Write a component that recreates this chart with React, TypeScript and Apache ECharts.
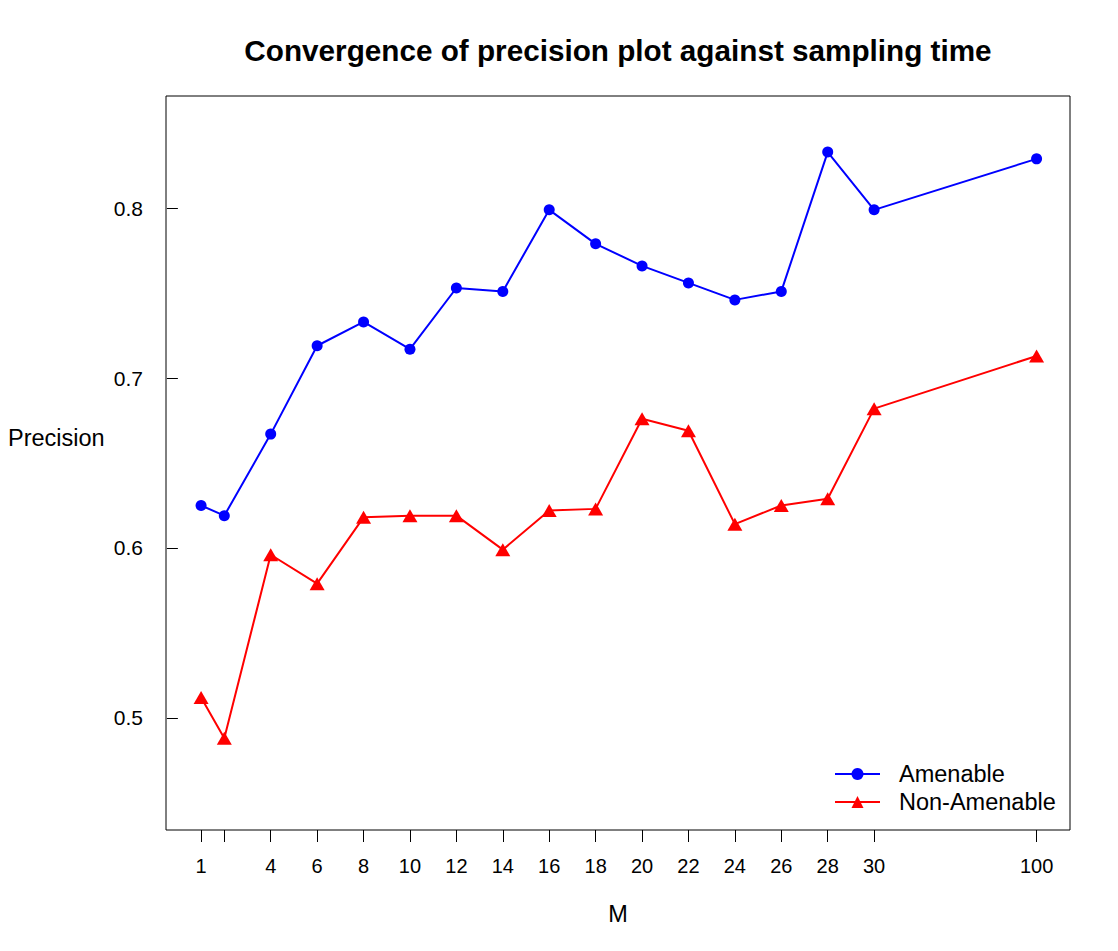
import React, { useEffect, useRef } from "react";
import * as echarts from "echarts";

// Sampling times M shown on the x axis
const mValues = [1, 2, 4, 6, 8, 10, 12, 14, 16, 18, 20, 22, 24, 26, 28, 30, 100];
// Tick labels (the tick at M = 2 is drawn without a label)
const xTickLabels = ["1", "", "4", "6", "8", "10", "12", "14", "16", "18", "20", "22", "24", "26", "28", "30", "100"];
// The last value (100) is drawn on a broken axis, in the slot after 30
const brokenSlotForLast = 37;

const amenable = [0.625, 0.619, 0.667, 0.719, 0.733, 0.717, 0.753, 0.751, 0.799, 0.779, 0.766, 0.756, 0.746, 0.751, 0.833, 0.799, 0.829];
const nonAmenable = [0.512, 0.488, 0.596, 0.579, 0.618, 0.619, 0.619, 0.599, 0.622, 0.623, 0.676, 0.669, 0.614, 0.625, 0.629, 0.682, 0.713];

const yTicks = [0.5, 0.6, 0.7, 0.8];
const yLimits = [0.45, 0.85];

const FONT = "'Liberation Sans', Arial, Helvetica, sans-serif";

const axisSlot = (m: number, i: number) => (i === mValues.length - 1 ? brokenSlotForLast : m);

export default function App() {
  const ref = useRef<HTMLDivElement>(null);

  useEffect(() => {
    if (!ref.current) return;
    const chart = echarts.init(ref.current, null, { renderer: "svg" });
    const slots = mValues.map(axisSlot);
    const xRange = slots[slots.length - 1] - slots[0];
    const xMin = slots[0] - 0.042 * xRange;
    const xMax = slots[slots.length - 1] + 0.04 * xRange;
    const yRange = yLimits[1] - yLimits[0];
    const yMin = yLimits[0] - 0.04 * yRange;
    const yMax = yLimits[1] + 0.04 * yRange;

    const labelFor = (v: number) => {
      const idx = slots.findIndex((s) => Math.abs(s - v) < 1e-6);
      return idx >= 0 ? xTickLabels[idx] : "";
    };

    chart.setOption({
      animation: false,
      backgroundColor: "#ffffff",
      title: {
        text: "Convergence of precision plot against sampling time",
        left: 613,
        textAlign: "center",
        top: 30,
        textStyle: { fontFamily: FONT, fontSize: 29.7, fontWeight: "bold", color: "#000" },
      },
      grid: {
        left: 166,
        top: 96,
        right: 48,
        bottom: 121,
        show: true,
        borderColor: "#000",
        borderWidth: 1,
        backgroundColor: "transparent",
      },
      legend: {
        orient: "vertical",
        left: 834,
        top: 762,
        padding: 0,
        itemWidth: 45,
        itemHeight: 15,
        itemGap: 4,
        data: ["Amenable", "Non-Amenable"],
        textStyle: { fontFamily: FONT, fontSize: 23.5, color: "#000", padding: [0, 0, 0, 14] },
      },
      xAxis: {
        type: "value",
        min: xMin,
        max: xMax,
        name: "M",
        nameLocation: "middle",
        nameGap: 72,
        nameTextStyle: { fontFamily: FONT, fontSize: 23.5, color: "#000" },
        axisLine: { show: false },
        splitLine: { show: false },
        axisTick: {
          show: true,
          inside: false,
          length: 12,
          customValues: slots,
          lineStyle: { color: "#000", width: 1 },
        },
        axisLabel: {
          customValues: slots,
          formatter: (v: number) => labelFor(v),
          margin: 26,
          fontFamily: FONT,
          fontSize: 20,
          color: "#000",
        },
      },
      yAxis: {
        type: "value",
        min: yMin,
        max: yMax,
        axisLine: { show: false },
        splitLine: { show: false },
        axisTick: {
          show: true,
          length: 11,
          customValues: yTicks,
          lineStyle: { color: "#000", width: 1 },
        },
        axisLabel: {
          customValues: yTicks,
          formatter: (v: number) => v.toFixed(1),
          margin: 23,
          fontFamily: FONT,
          fontSize: 21,
          color: "#000",
        },
      },
      graphic: [
        {
          type: "text",
          x: 8,
          y: 438,
          style: {
            text: "Precision",
            fontFamily: FONT,
            fontSize: 23.5,
            fill: "#000",
            textAlign: "left",
            textVerticalAlign: "middle",
          },
        },
      ],
      series: [
        {
          name: "Amenable",
          type: "line",
          data: mValues.map((m, i) => [slots[i], amenable[i]]),
          symbol: "circle",
          symbolSize: 11,
          itemStyle: { color: "#0000ff" },
          lineStyle: { color: "#0000ff", width: 2 },
        },
        {
          name: "Non-Amenable",
          type: "line",
          data: mValues.map((m, i) => [slots[i], nonAmenable[i]]),
          symbol: "triangle",
          symbolSize: [15, 13],
          itemStyle: { color: "#ff0000" },
          lineStyle: { color: "#ff0000", width: 2 },
        },
      ],
    });

    return () => chart.dispose();
  }, []);

  return (
    <div
      ref={ref}
      style={{ position: "absolute", left: 0, top: 0, width: 1118, height: 951, background: "#fff" }}
    />
  );
}
